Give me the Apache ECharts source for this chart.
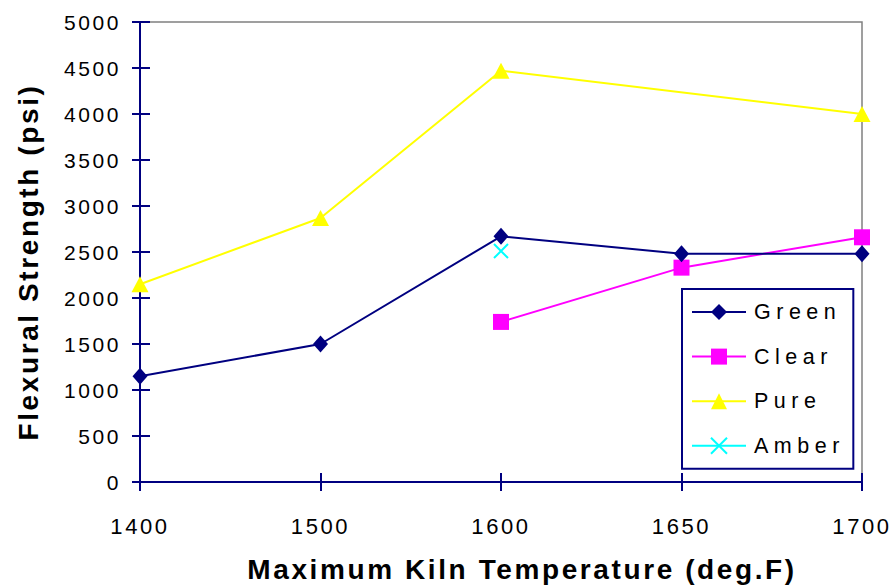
<!DOCTYPE html>
<html>
<head>
<meta charset="utf-8">
<script src="https://cdn.jsdelivr.net/npm/echarts@6/dist/echarts.min.js"></script>
<style>
  html, body { margin: 0; padding: 0; background: #fff; }
  #chart { width: 896px; height: 588px; }
  /* spaced-out lettering for axis labels and titles */
  #chart svg text { letter-spacing: 2.6px; }
  #chart svg text[style*="21.5px"] { letter-spacing: 5.5px; }
</style>
</head>
<body>
<div id="chart"></div>
<script>
// Kiln temperatures (deg.F) on the category axis
const temperatures = ['1400', '1500', '1600', '1650', '1700'];

// Flexural strength (psi) for each glass type
const green = [1150, 1500, 2670, 2480, 2480];
const clear = [null, null, 1740, 2330, 2660];
const pure  = [2150, 2870, 4470, null, 4000];
const amber = [null, null, 2510, null, null];

// Value axis scale
const yMin = 0, yMax = 5000, yStep = 500;

const NAVY = '#000080';
const FONT = '"Liberation Sans", Arial, sans-serif';

const chart = echarts.init(document.getElementById('chart'), null, { renderer: 'svg' });

const crossSymbol = 'path://M0,0L10,10M10,0L0,10';

chart.setOption({
  animation: false,
  backgroundColor: '#fff',
  textStyle: { fontFamily: FONT },
  grid: {
    left: 140, right: 34, top: 22, bottom: 106,
    show: true, borderColor: '#808080', borderWidth: 1.5, backgroundColor: 'transparent'
  },
  legend: {
    orient: 'vertical',
    left: 682, top: 289,
    padding: [12, 36, 12, 9],
    itemWidth: 54, itemHeight: 20,
    itemGap: 22.6,
    borderColor: NAVY, borderWidth: 2,
    backgroundColor: '#fff',
    textStyle: { fontSize: 21.5, color: '#000', fontFamily: FONT, padding: [0, 0, 0, 3] },
    data: ['Green', 'Clear', 'Pure', 'Amber']
  },
  xAxis: [{
    type: 'category',
    data: temperatures,
    boundaryGap: false,
    axisLine: { lineStyle: { color: NAVY, width: 2 } },
    axisTick: { show: true, length: 9, lineStyle: { color: NAVY, width: 2 } },
    axisLabel: { fontSize: 22, color: '#000', margin: 33, fontFamily: FONT },
    splitLine: { show: false }
  }, {
    type: 'category',
    data: temperatures,
    boundaryGap: false,
    position: 'bottom',
    axisLine: { show: false },
    axisTick: { show: true, inside: true, length: 9, lineStyle: { color: NAVY, width: 2 } },
    axisLabel: { show: false },
    splitLine: { show: false }
  }],
  yAxis: [{
    type: 'value',
    min: yMin, max: yMax, interval: yStep,
    axisLine: { show: true, lineStyle: { color: NAVY, width: 2 } },
    axisTick: { show: true, length: 8, lineStyle: { color: NAVY, width: 2 } },
    axisLabel: { fontSize: 21, color: '#000', margin: 19, fontFamily: FONT, formatter: v => String(v) },
    splitLine: { show: false }
  }, {
    type: 'value',
    min: yMin, max: yMax, interval: yStep,
    position: 'left',
    axisLine: { show: false },
    axisTick: { show: true, inside: true, length: 10, lineStyle: { color: NAVY, width: 2 } },
    axisLabel: { show: false },
    splitLine: { show: false }
  }],
  graphic: [{
    type: 'text',
    x: 522, y: 569,
    style: {
      text: 'Maximum Kiln Temperature (deg.F)',
      font: 'bold 28px ' + FONT,
      fill: '#000', align: 'center', verticalAlign: 'middle'
    }
  }, {
    type: 'text',
    x: 28, y: 262,
    rotation: Math.PI / 2,
    style: {
      text: 'Flexural Strength (psi)',
      font: 'bold 28px ' + FONT,
      fill: '#000', align: 'center', verticalAlign: 'middle'
    }
  }],
  series: [{
    name: 'Green', type: 'line', data: green,
    symbol: 'diamond', symbolSize: [15, 17],
    itemStyle: { color: NAVY },
    lineStyle: { color: NAVY, width: 2 },
    z: 4
  }, {
    name: 'Clear', type: 'line', data: clear,
    symbol: 'rect', symbolSize: 16,
    itemStyle: { color: '#FF00FF' },
    lineStyle: { color: '#FF00FF', width: 2 },
    z: 3
  }, {
    name: 'Pure', type: 'line', data: pure, connectNulls: true,
    symbol: 'triangle', symbolSize: [17, 16],
    itemStyle: { color: '#FFFF00' },
    lineStyle: { color: '#FFFF00', width: 2 },
    z: 2
  }, {
    name: 'Amber', type: 'line', data: amber,
    symbol: crossSymbol, symbolSize: [14, 14],
    itemStyle: { color: '#00FFFF', borderColor: '#00FFFF', borderWidth: 2 },
    lineStyle: { color: '#00FFFF', width: 2 },
    z: 5
  }]
});
</script>
</body>
</html>
